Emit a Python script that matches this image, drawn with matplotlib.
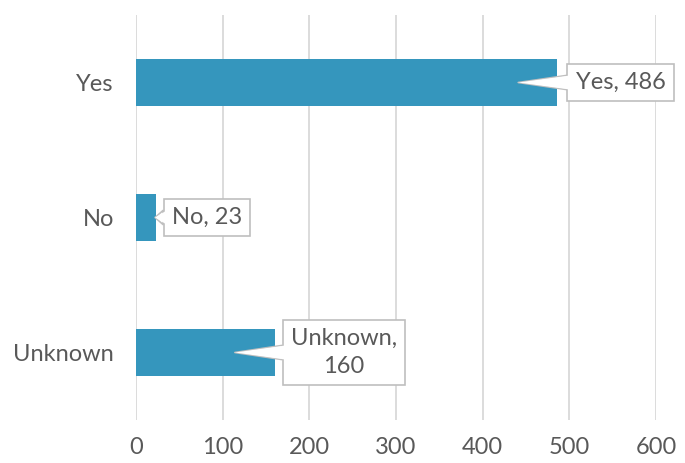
import matplotlib
matplotlib.use("Agg")
import matplotlib.pyplot as plt

categories = ["Yes", "No", "Unknown"]
counts = [486, 23, 160]
label_texts = ["Yes, 486", "No, 23", "Unknown,\n160"]
x_ticks = [0, 100, 200, 300, 400, 500, 600]

bar_color = "#3596BD"
text_color = "#595959"
grid_color = "#D9D9D9"
box_edge = "#BFBFBF"
fsize = 17

plt.rcParams["font.family"] = ["Lato", "DejaVu Sans"]

fig = plt.figure(figsize=(6.85, 4.63), dpi=100)
ax = fig.add_axes([136 / 685, (463 - 420) / 463, (656 - 136) / 685, (420 - 15) / 463])

ypos = list(range(len(categories)))
ax.barh(ypos, counts, height=0.35, color=bar_color, zorder=2)
ax.set_ylim(len(categories) - 0.5, -0.5)
ax.set_xlim(0, 600)
ax.set_xticks(x_ticks)
ax.set_xticklabels([str(t) for t in x_ticks])
ax.set_yticks(ypos)
ax.set_yticklabels(categories)

ax.grid(axis="x", color=grid_color, linewidth=1.3, zorder=0)
for s in ax.spines.values():
    s.set_visible(False)
ax.tick_params(axis="both", length=0, labelsize=fsize, labelcolor=text_color)
ax.tick_params(axis="x", pad=12)
ax.tick_params(axis="y", pad=16)

# callout labels: (pointer tip x, text center x) in data units
tips = [441, 22, 114]
centers = [559, 82, 240]
for i, (txt, tip, cx) in enumerate(zip(label_texts, tips, centers)):
    common = dict(xy=(tip, i), xytext=(cx, i), textcoords="data",
                  ha="center", va="center", fontsize=fsize, linespacing=1.4)
    ax.annotate(
        txt, color=text_color, zorder=5,
        bbox=dict(boxstyle="square,pad=0.35", fc="white", ec=box_edge, lw=1.2),
        arrowprops=dict(arrowstyle="wedge,tail_width=0.6", fc="white",
                        ec=box_edge, lw=1.2, shrinkA=0, shrinkB=0),
        **common,
    )
    # white fill that joins the pointer to the box without a seam
    ax.annotate(
        txt, color="none", zorder=6,
        bbox=dict(boxstyle="square,pad=0.22", fc="none", ec="none"),
        arrowprops=dict(arrowstyle="wedge,tail_width=0.6", fc="white",
                        ec="none", lw=0, shrinkA=0, shrinkB=0),
        **common,
    )

fig.savefig("out.png", dpi=100)
